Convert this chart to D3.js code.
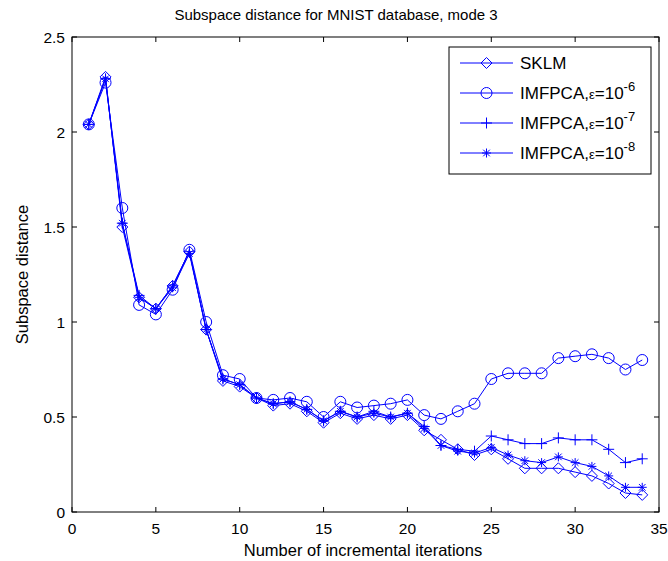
<!DOCTYPE html>
<html>
<head>
<meta charset="utf-8">
<script src="https://cdn.jsdelivr.net/npm/d3@7"></script>
<style>
  body { margin: 0; background: #fff; }
  svg { display: block; font-family: Arial, 'Liberation Sans', sans-serif; }
  .axis-line { stroke: #000; stroke-width: 1; fill: none; }
  .tick-label { font-size: 15.5px; fill: #000; }
</style>
</head>
<body>
<div id="chart"></div>
<script>
// iteration index on x
const iterations = [1, 2, 3, 4, 5, 6, 7, 8, 9, 10, 11, 12, 13, 14, 15, 16, 17,
  18, 19, 20, 21, 22, 23, 24, 25, 26, 27, 28, 29, 30, 31, 32, 33, 34]

const sklm = [2.04, 2.29, 1.50, 1.13, 1.07, 1.19, 1.37, 0.96, 0.69, 0.66, 0.60, 0.56,
  0.57, 0.53, 0.47, 0.52, 0.49, 0.51, 0.49, 0.51, 0.43, 0.38, 0.33, 0.30, 0.33, 0.28,
  0.23, 0.23, 0.23, 0.21, 0.19, 0.15, 0.10, 0.09]
const imfpca6 = [2.04, 2.26, 1.60, 1.09, 1.04, 1.17, 1.38, 1.00, 0.72, 0.70, 0.60, 0.59,
  0.60, 0.58, 0.50, 0.58, 0.55, 0.56, 0.57, 0.59, 0.51, 0.49, 0.53, 0.57, 0.70, 0.73,
  0.73, 0.73, 0.81, 0.82, 0.83, 0.81, 0.75, 0.80]
const imfpca7 = [2.04, 2.28, 1.52, 1.14, 1.07, 1.19, 1.37, 0.96, 0.70, 0.67, 0.60, 0.57,
  0.58, 0.54, 0.48, 0.53, 0.50, 0.53, 0.50, 0.52, 0.45, 0.35, 0.33, 0.32, 0.40, 0.38,
  0.36, 0.36, 0.39, 0.38, 0.38, 0.33, 0.26, 0.28]
const imfpca8 = [2.04, 2.28, 1.52, 1.13, 1.07, 1.18, 1.36, 0.96, 0.70, 0.67, 0.60, 0.57,
  0.58, 0.54, 0.48, 0.53, 0.50, 0.52, 0.50, 0.52, 0.44, 0.35, 0.32, 0.31, 0.34, 0.30,
  0.27, 0.26, 0.29, 0.26, 0.24, 0.19, 0.13, 0.13]

const seriesNames = ['SKLM', 'IMFPCA,ε=10', 'IMFPCA,ε=10', 'IMFPCA,ε=10']
const seriesExponents = [null, '-6', '-7', '-8']
const seriesMarkers = ['diamond', 'circle', 'plus', 'star']
const seriesValues = [sklm, imfpca6, imfpca7, imfpca8]

const xTicks = [0, 5, 10, 15, 20, 25, 30, 35]
const yTicks = [0, 0.5, 1, 1.5, 2, 2.5]

const width = 668
const height = 561
const margin = { top: 37, right: 9, bottom: 49, left: 72 }
const blue = '#0000ff'

const svg = d3.select('#chart')
  .append('svg')
  .attr('width', width)
  .attr('height', height)

const x = d3.scaleLinear().domain([0, 35]).range([margin.left, width - margin.right])
const y = d3.scaleLinear().domain([0, 2.5]).range([height - margin.bottom, margin.top])

// marker shapes in the matlab style, centered at 0,0
function markerPath (type) {
  if (type === 'diamond') return 'M0,-5.5L5.5,0L0,5.5L-5.5,0Z'
  if (type === 'circle') return 'M5.5,0A5.5,5.5 0 1,1 -5.5,0A5.5,5.5 0 1,1 5.5,0Z'
  if (type === 'plus') return 'M-5.5,0H5.5M0,-5.5V5.5'
  if (type === 'star') return 'M-4.5,0H4.5M0,-4.5V4.5M-3.3,-3.3L3.3,3.3M-3.3,3.3L3.3,-3.3'
}

// axes box
const box = svg.append('g')
box.append('rect')
  .attr('class', 'axis-line')
  .attr('x', x(0))
  .attr('y', y(2.5))
  .attr('width', x(35) - x(0))
  .attr('height', y(0) - y(2.5))

const tickLen = 5
xTicks.forEach((t) => {
  box.append('line').attr('class', 'axis-line')
    .attr('x1', x(t)).attr('x2', x(t)).attr('y1', y(0)).attr('y2', y(0) - tickLen)
  box.append('line').attr('class', 'axis-line')
    .attr('x1', x(t)).attr('x2', x(t)).attr('y1', y(2.5)).attr('y2', y(2.5) + tickLen)
  box.append('text').attr('class', 'tick-label')
    .attr('x', x(t)).attr('y', y(0) + 22)
    .attr('text-anchor', 'middle')
    .text(t)
})
yTicks.forEach((t) => {
  box.append('line').attr('class', 'axis-line')
    .attr('x1', x(0)).attr('x2', x(0) + tickLen).attr('y1', y(t)).attr('y2', y(t))
  box.append('line').attr('class', 'axis-line')
    .attr('x1', x(35)).attr('x2', x(35) - tickLen).attr('y1', y(t)).attr('y2', y(t))
  box.append('text').attr('class', 'tick-label')
    .attr('x', x(0) - 7).attr('y', y(t) + 5.5)
    .attr('text-anchor', 'end')
    .text(t)
})

// series
const line = d3.line().x((d) => x(d[0])).y((d) => y(d[1]))
seriesValues.forEach((vals, i) => {
  const pts = iterations.map((it, j) => [it, vals[j]])
  const g = svg.append('g')
  g.append('path')
    .attr('d', line(pts))
    .attr('fill', 'none')
    .attr('stroke', blue)
    .attr('stroke-width', 1)
  g.selectAll('path.marker')
    .data(pts)
    .enter()
    .append('path')
    .attr('class', 'marker')
    .attr('d', markerPath(seriesMarkers[i]))
    .attr('transform', (d) => `translate(${x(d[0])},${y(d[1])})`)
    .attr('fill', 'none')
    .attr('stroke', blue)
    .attr('stroke-width', 1)
})

// titles
svg.append('text')
  .attr('x', 336).attr('y', 20)
  .attr('text-anchor', 'middle')
  .style('font-size', '15px')
  .text('Subspace distance for MNIST database, mode 3')

svg.append('text')
  .attr('x', 363).attr('y', 556)
  .attr('text-anchor', 'middle')
  .style('font-size', '16.5px')
  .text('Number of incremental iterations')

svg.append('text')
  .attr('transform', `translate(28,${(y(0) + y(2.5)) / 2}) rotate(-90)`)
  .attr('text-anchor', 'middle')
  .style('font-size', '16.5px')
  .text('Subspace distance')

// legend
const legend = svg.append('g').attr('transform', 'translate(449,47)')
legend.append('rect')
  .attr('width', 202).attr('height', 127)
  .attr('fill', '#fff')
  .attr('stroke', '#000')
  .attr('stroke-width', 1)

seriesNames.forEach((name, i) => {
  const ly = 16 + i * 30
  legend.append('line')
    .attr('x1', 11).attr('x2', 64).attr('y1', ly).attr('y2', ly)
    .attr('stroke', blue).attr('stroke-width', 1)
  legend.append('path')
    .attr('d', markerPath(seriesMarkers[i]))
    .attr('transform', `translate(37.5,${ly})`)
    .attr('fill', 'none').attr('stroke', blue).attr('stroke-width', 1)
  const t = legend.append('text')
    .attr('x', 71).attr('y', ly + 6)
    .style('font-size', '17px')
  if (seriesExponents[i]) {
    t.append('tspan').text('IMFPCA,')
    t.append('tspan').style('font-size', '13px').text('ε')
    t.append('tspan').text('=10')
    t.append('tspan').attr('dy', -8).style('font-size', '13px').text(seriesExponents[i])
  } else {
    t.text(name)
  }
})
</script>
</body>
</html>
